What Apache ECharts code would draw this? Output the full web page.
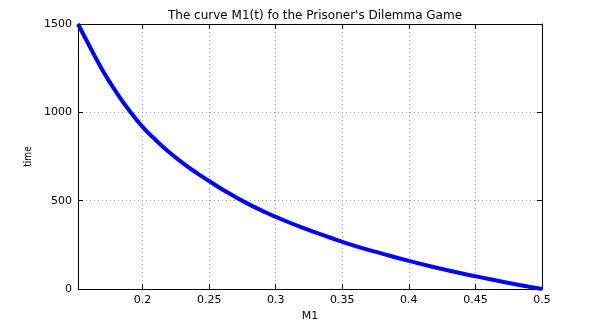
<!DOCTYPE html>
<html>
<head>
<meta charset="utf-8">
<script src="https://cdn.jsdelivr.net/npm/echarts@6/dist/echarts.min.js"></script>
<style>
  html, body { margin: 0; padding: 0; background: #fff; }
  #chart { width: 599px; height: 327px; }
</style>
</head>
<body>
<div id="chart"></div>
<script>
// values
const m1Values = [0.1515, 0.16, 0.17, 0.18, 0.19, 0.2, 0.21, 0.22, 0.23, 0.24, 0.25, 0.26, 0.27, 0.28, 0.29,
  0.3, 0.32, 0.34, 0.36, 0.38, 0.4, 0.42, 0.44, 0.46, 0.48, 0.5]
const timeValues = [1500, 1377, 1237, 1117, 1010, 918, 842, 774, 714, 660, 611, 563, 520, 479, 442,
  408, 347, 293, 243, 200, 159, 122, 88, 57, 27, 0]
const xTicks = [0.2, 0.25, 0.3, 0.35, 0.4, 0.45, 0.5]

const FONT = '"DejaVu Sans", sans-serif'
const xMin = 0.1515
const xMax = 0.5

const chart = echarts.init(document.getElementById('chart'), null, { renderer: 'canvas' })

const gridLine = { show: true, lineStyle: { color: '#999', type: [1, 3], width: 1 } }
const tickLabel = { color: '#000', fontFamily: FONT, fontSize: 11, margin: 6 }

chart.setOption({
  animation: false,
  backgroundColor: '#fff',
  title: {
    text: "The curve M1(t) fo the Prisoner's Dilemma Game",
    left: 310,
    textAlign: 'center',
    top: 5,
    textStyle: { fontFamily: FONT, fontSize: 12, fontWeight: 'normal', color: '#000' }
  },
  grid: { left: 78, right: 57, top: 24, bottom: 37, containLabel: false },
  xAxis: [{
    type: 'value',
    min: xMin,
    max: xMax,
    name: 'M1',
    nameLocation: 'middle',
    nameGap: 22,
    nameTextStyle: { fontFamily: FONT, fontSize: 11, color: '#000' },
    axisLine: { show: true, onZero: false, lineStyle: { color: '#000', width: 1 } },
    axisTick: { show: true, inside: true, length: 5, customValues: xTicks, lineStyle: { color: '#000' } },
    axisLabel: Object.assign({ customValues: xTicks, formatter: v => String(+v.toFixed(2)) }, tickLabel),
    splitLine: gridLine
  }, {
    type: 'value',
    position: 'top',
    min: xMin,
    max: xMax,
    axisLine: { show: true, onZero: false, lineStyle: { color: '#000', width: 1 } },
    axisTick: { show: true, inside: true, length: 5, customValues: xTicks, lineStyle: { color: '#000' } },
    axisLabel: { show: false, customValues: xTicks },
    splitLine: { show: false }
  }],
  yAxis: [{
    type: 'value',
    min: 0,
    max: 1500,
    interval: 500,
    name: 'time',
    nameLocation: 'middle',
    nameGap: 40,
    nameTextStyle: { fontFamily: '"DejaVu Sans Condensed", "DejaVu Sans", sans-serif', fontSize: 10, color: '#000' },
    axisLine: { show: true, onZero: false, lineStyle: { color: '#000', width: 1 } },
    axisTick: { show: true, inside: true, length: 5, lineStyle: { color: '#000' } },
    axisLabel: Object.assign({ formatter: v => String(v) }, tickLabel),
    splitLine: gridLine
  }, {
    type: 'value',
    position: 'right',
    min: 0,
    max: 1500,
    interval: 500,
    axisLine: { show: true, onZero: false, lineStyle: { color: '#000', width: 1 } },
    axisTick: { show: true, inside: true, length: 5, lineStyle: { color: '#000' } },
    axisLabel: { show: false },
    splitLine: { show: false }
  }],
  series: [{
    type: 'line',
    data: m1Values.map((x, i) => [x, timeValues[i]]),
    smooth: true,
    showSymbol: false,
    clip: true,
    lineStyle: { color: '#0000ff', width: 4 }
  }]
})
</script>
</body>
</html>
